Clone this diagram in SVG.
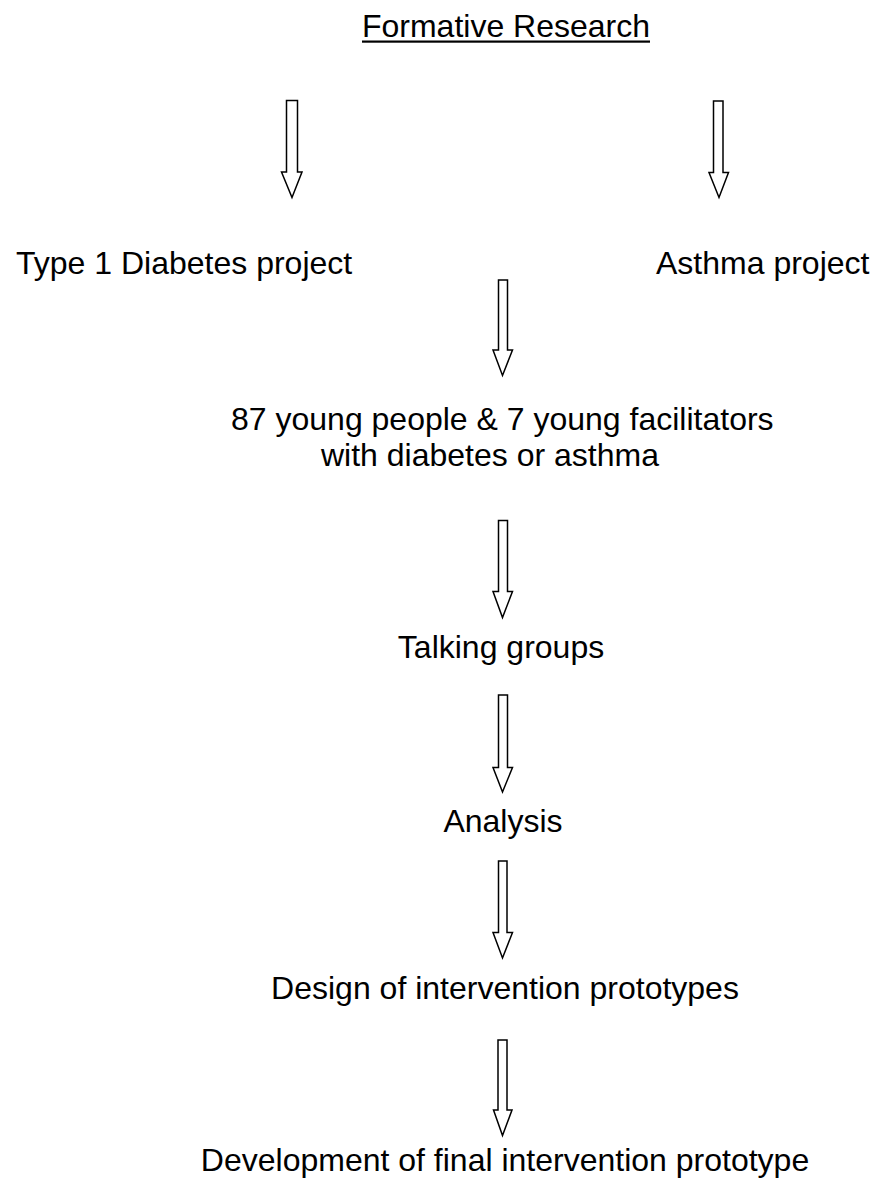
<svg xmlns="http://www.w3.org/2000/svg" width="883" height="1187" viewBox="0 0 883 1187">
<style>
text{font-family:"Liberation Sans",Arial,sans-serif;font-size:32px;fill:#000}
.arrow{fill:#fff;stroke:#000;stroke-width:1.5;stroke-linejoin:miter}
</style>
<rect width="883" height="1187" fill="#fff"/>
<g id="n-formative"><text x="506" y="37" text-anchor="middle">Formative Research</text><rect x="362" y="40.5" width="288" height="2.2" fill="#000"/></g>
<g id="n-diabetes"><text x="16" y="274">Type 1 Diabetes project</text></g>
<g id="n-asthma"><text x="656" y="274">Asthma project</text></g>
<g id="n-people"><text x="231" y="430">87 young people &amp; 7 young facilitators</text><text x="321" y="466">with diabetes or asthma</text></g>
<g id="n-talking"><text x="501" y="658" text-anchor="middle">Talking groups</text></g>
<g id="n-analysis"><text x="503" y="832" text-anchor="middle">Analysis</text></g>
<g id="n-design"><text x="505" y="999" text-anchor="middle">Design of intervention prototypes</text></g>
<g id="n-development"><text x="505" y="1171" text-anchor="middle">Development of final intervention prototype</text></g>
<g id="connectors">
<path class="arrow" d="M286.5 100.5H297.5V172H302L292 197.5L281.5 172H286.5Z"/>
<path class="arrow" d="M713.5 101H723V172.5H728.5L719 197.5L709 172.5H713.5Z"/>
<path class="arrow" d="M498.5 280H507.5V350H512.5L502.5 375.5L493 350H498.5Z"/>
<path class="arrow" d="M498.5 520.5H507.5V591.5H512.5L502.5 617.5L493 591.5H498.5Z"/>
<path class="arrow" d="M498.5 695H507.5V767.5H512.5L502.5 792L493 767.5H498.5Z"/>
<path class="arrow" d="M498.5 861H507V932.5H512.5L502.5 958L493 932.5H498.5Z"/>
<path class="arrow" d="M498 1040H507V1110H512L502.5 1135.5L493.5 1110H498Z"/>
</g>
</svg>
